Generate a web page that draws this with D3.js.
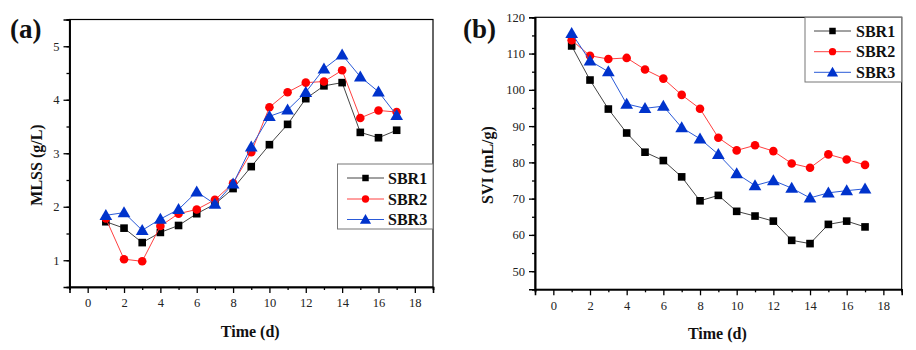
<!DOCTYPE html>
<html><head><meta charset="utf-8">
<script src="https://cdn.jsdelivr.net/npm/d3@7"></script>
<style>body{margin:0;background:#fff}svg{display:block}text{font-family:"Liberation Serif","Times New Roman",serif}</style>
</head><body><svg id="c" width="916" height="350"></svg>
<script>
const days = [1,2,3,4,5,6,7,8,9,10,11,12,13,14,15,16,17];
const seriesNames = ["SBR1","SBR2","SBR3"];
const mlssSBR1 = [1.72,1.60,1.33,1.52,1.65,1.87,2.05,2.34,2.75,3.16,3.54,4.02,4.26,4.32,3.39,3.29,3.43];
const mlssSBR2 = [1.78,1.02,0.98,1.64,1.87,1.95,2.13,2.44,3.02,3.86,4.14,4.32,4.34,4.55,3.66,3.80,3.77];
const mlssSBR3 = [1.84,1.89,1.56,1.77,1.95,2.28,2.05,2.43,3.12,3.69,3.81,4.14,4.58,4.84,4.43,4.15,3.71];
const sviSBR1 = [112.1,102.7,94.7,88.1,82.8,80.5,76.0,69.4,70.9,66.5,65.2,63.8,58.5,57.6,62.9,63.8,62.2];
const sviSBR2 = [113.7,109.4,108.5,108.8,105.6,103.1,98.6,94.8,86.8,83.3,84.7,83.1,79.7,78.5,82.2,80.8,79.3];
const sviSBR3 = [115.6,108.0,105.0,96.1,94.9,95.5,89.6,86.5,82.2,76.9,73.6,75.0,72.9,70.2,71.6,72.2,72.7];
const xTicks = [0,2,4,6,8,10,12,14,16,18];
const mlssTicks = [1,2,3,4,5];
const sviTicks = [50,60,70,80,90,100,110,120];

const markerCol = ["#000000","#ff0000","#0033cc"];
const lineCol = ["#444444","#ff4040","#2a5ad8"];
const shapes = [d3.symbolSquare, d3.symbolCircle, d3.symbolTriangle];
const sizes = [50, 50, 62];

const svg = d3.select("#c");

function panel(o){
  const g = svg.append("g");
  const x = d3.scaleLinear().domain([-1,19]).range([o.l,o.r]);
  const y = d3.scaleLinear().domain(o.yd).range([o.b,o.t]);
  g.append("rect").attr("x",o.l).attr("y",o.t).attr("width",o.r-o.l).attr("height",o.b-o.t)
    .attr("fill","none").attr("stroke","#000").attr("stroke-width",1.2);
  const xa = g.append("g").attr("transform",`translate(0,${o.b})`)
    .call(d3.axisBottom(x).tickValues(xTicks).tickSize(6).tickPadding(3).tickFormat(d3.format("d")));
  const xm = g.append("g").attr("transform",`translate(0,${o.b})`)
    .call(d3.axisBottom(x).tickValues(d3.range(-1,20,2)).tickSize(3).tickFormat(""));
  const ya = g.append("g").attr("transform",`translate(${o.l},0)`)
    .call(d3.axisLeft(y).tickValues(o.yt).tickSize(6).tickPadding(4).tickFormat(d3.format("d")));
  const ym = g.append("g").attr("transform",`translate(${o.l},0)`)
    .call(d3.axisLeft(y).tickValues(o.ym).tickSize(3).tickFormat(""));
  [xa,xm,ya,ym].forEach(a=>{
    a.select(".domain").attr("stroke","#000").attr("stroke-width",1.6);
    a.selectAll(".tick line").attr("stroke","#000").attr("stroke-width",1.3);
    a.selectAll("text").attr("font-size",12.5).attr("fill","#222").attr("font-family","Liberation Serif");
  });
  xa.selectAll("text").attr("dy","0.9em");
  o.data.forEach((vals,i)=>{
    const pts = days.map((d,k)=>[d,vals[k]]);
    g.append("path").datum(pts).attr("fill","none").attr("stroke",lineCol[i]).attr("stroke-width",1)
      .attr("d",d3.line().x(p=>x(p[0])).y(p=>y(p[1])));
    g.selectAll(null).data(pts).enter().append("path")
      .attr("transform",p=>`translate(${x(p[0])},${y(p[1]) + (i===2?1:0)})`)
      .attr("d",d3.symbol().type(shapes[i]).size(sizes[i]+8))
      .attr("fill",markerCol[i]);
  });
  const L = o.leg;
  g.append("rect").attr("x",L.x).attr("y",L.y).attr("width",L.w).attr("height",L.h)
    .attr("fill","#fff").attr("stroke","#777").attr("stroke-width",1);
  seriesNames.forEach((n,i)=>{
    const yy = L.rows[i];
    g.append("line").attr("x1",L.l1).attr("x2",L.l2).attr("y1",yy).attr("y2",yy)
      .attr("stroke",lineCol[i]).attr("stroke-width",1);
    g.append("path").attr("transform",`translate(${(L.l1+L.l2)/2},${yy+(i===2?1:0)})`)
      .attr("d",d3.symbol().type(shapes[i]).size(sizes[i]-8)).attr("fill",markerCol[i]);
    g.append("text").attr("x",L.tx).attr("y",yy).attr("dy","0.35em").attr("font-size",16)
      .attr("font-weight","bold").attr("fill","#111").text(n);
  });
  g.append("text").attr("x",(o.l+o.r)/2 - 1).attr("y",o.xty).attr("text-anchor","middle")
    .attr("font-size",16).attr("font-weight","bold").attr("fill","#111").text("Time (d)");
  g.append("text").attr("transform",`translate(${o.ytx},${o.yty}) rotate(-90)`).attr("text-anchor","middle")
    .attr("font-size",16).attr("font-weight","bold").attr("fill","#111").text(o.ytitle);
  g.append("text").attr("x",o.lx).attr("y",38).attr("font-size",27).attr("font-weight","bold")
    .attr("fill","#111").text(o.label);
}

panel({l:69.5,r:433,t:19.5,b:287,yd:[0.5,5.5],yt:mlssTicks,ym:d3.range(0.5,5.6,0.5),
  data:[mlssSBR1,mlssSBR2,mlssSBR3],
  leg:{x:337.5,y:164,w:95.5,h:65,rows:[178,199,219.5],l1:347,l2:384,tx:388},
  xty:337,ytx:42,yty:165,ytitle:"MLSS (g/L)",lx:10,label:"(a)"});

panel({l:535,r:901.7,t:17.3,b:289.3,yd:[45,120],yt:sviTicks,ym:d3.range(45,121,5),
  data:[sviSBR1,sviSBR2,sviSBR3],
  leg:{x:805,y:17.3,w:96.7,h:64.7,rows:[31,51.7,72.3],l1:814,l2:851,tx:856},
  xty:339,ytx:493,yty:165,ytitle:"SVI (mL/g)",lx:463,label:"(b)"});
</script></body></html>
